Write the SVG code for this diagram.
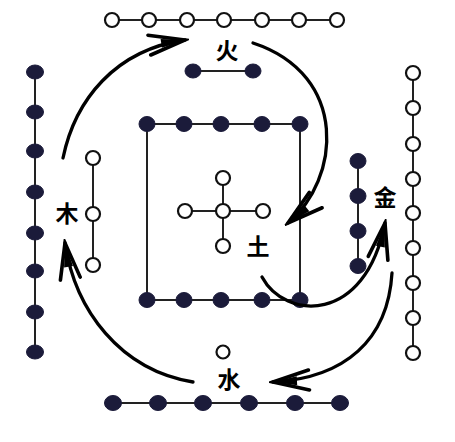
<svg xmlns="http://www.w3.org/2000/svg" width="455" height="442" viewBox="0 0 455 442">
<style>
.ln{stroke:#222;stroke-width:2;fill:none}
.blk{fill:#1b1b3a;stroke:#1b1b3a;stroke-width:1}
.wht{fill:#fff;stroke:#111;stroke-width:2.2}
.arc{stroke:#000;stroke-width:3.3;fill:none;stroke-linecap:round;marker-end:url(#ah)}
.lab{font-family:"Noto Sans CJK SC","Noto Sans CJK JP",sans-serif;font-size:23px;font-weight:700;fill:#000;text-anchor:middle;dominant-baseline:central}
</style>
<defs>
<marker id="ah" markerUnits="userSpaceOnUse" markerWidth="46" markerHeight="30" viewBox="-42 -15 46 30" refX="0" refY="0" orient="auto">
<path d="M-36,-10 L0,0 L-36,10" fill="none" stroke="#000" stroke-width="3.6" stroke-linejoin="miter" stroke-linecap="round"/>
<path d="M0,0 L-24,-4.5 L-24,4.5 Z" fill="#000"/>
</marker>
</defs>
<rect width="455" height="442" fill="#fff"/>

<g id="fire">
<g id="fire-outer">
<line class="ln" x1="112" y1="20" x2="337" y2="20"/>
<circle class="wht" cx="112" cy="20" r="7"/>
<circle class="wht" cx="149" cy="20" r="7"/>
<circle class="wht" cx="187" cy="20" r="7"/>
<circle class="wht" cx="224" cy="20" r="7"/>
<circle class="wht" cx="262" cy="20" r="7"/>
<circle class="wht" cx="299" cy="20" r="7"/>
<circle class="wht" cx="337" cy="20" r="7"/>
</g>
<g id="fire-inner">
<line class="ln" x1="193" y1="71" x2="253" y2="71"/>
<ellipse class="blk" cx="193" cy="71" rx="8" ry="7"/>
<ellipse class="blk" cx="253" cy="71" rx="8" ry="7"/>
</g>
<text class="lab" x="227" y="49" font-size="21">火</text>
</g>

<g id="earth">
<g id="earth-square">
<line class="ln" x1="147" y1="124" x2="300" y2="124"/>
<line class="ln" x1="147" y1="300" x2="300" y2="300"/>
<line class="ln" x1="147" y1="124" x2="147" y2="300"/>
<line class="ln" x1="300" y1="124" x2="300" y2="300"/>
<ellipse class="blk" cx="147" cy="124" rx="8" ry="7.5"/>
<ellipse class="blk" cx="184" cy="124" rx="8" ry="7.5"/>
<ellipse class="blk" cx="221" cy="124" rx="8" ry="7.5"/>
<ellipse class="blk" cx="262" cy="124" rx="8" ry="7.5"/>
<ellipse class="blk" cx="300" cy="124" rx="8" ry="7.5"/>
<ellipse class="blk" cx="147" cy="300" rx="8" ry="7.5"/>
<ellipse class="blk" cx="184" cy="300" rx="8" ry="7.5"/>
<ellipse class="blk" cx="221" cy="300" rx="8" ry="7.5"/>
<ellipse class="blk" cx="262" cy="300" rx="8" ry="7.5"/>
<ellipse class="blk" cx="300" cy="300" rx="8" ry="7.5"/>
</g>
<g id="earth-cross">
<line class="ln" x1="223" y1="178" x2="223" y2="246"/>
<line class="ln" x1="185" y1="211" x2="263" y2="211"/>
<circle class="wht" cx="223" cy="178" r="7"/>
<circle class="wht" cx="223" cy="211" r="7"/>
<circle class="wht" cx="223" cy="246" r="7"/>
<circle class="wht" cx="185" cy="211" r="7"/>
<circle class="wht" cx="263" cy="211" r="7"/>
</g>
<text class="lab" x="258" y="245" font-weight="400">土</text>
</g>

<g id="wood">
<g id="wood-outer">
<line class="ln" x1="35" y1="72" x2="35" y2="352"/>
<ellipse class="blk" cx="35" cy="72" rx="8.5" ry="7"/>
<ellipse class="blk" cx="35" cy="112" rx="8.5" ry="7"/>
<ellipse class="blk" cx="35" cy="151" rx="8.5" ry="7"/>
<ellipse class="blk" cx="35" cy="192" rx="8.5" ry="7"/>
<ellipse class="blk" cx="35" cy="233" rx="8.5" ry="7"/>
<ellipse class="blk" cx="35" cy="271" rx="8.5" ry="7"/>
<ellipse class="blk" cx="35" cy="312" rx="8.5" ry="7"/>
<ellipse class="blk" cx="35" cy="352" rx="8.5" ry="7"/>
</g>
<g id="wood-inner">
<line class="ln" x1="93" y1="158" x2="93" y2="265"/>
<circle class="wht" cx="93" cy="158" r="7"/>
<circle class="wht" cx="93" cy="214" r="7"/>
<circle class="wht" cx="93" cy="265" r="7"/>
</g>
<text class="lab" x="67" y="212">木</text>
</g>

<g id="metal">
<g id="metal-outer">
<line class="ln" x1="413" y1="73" x2="413" y2="353"/>
<circle class="wht" cx="413" cy="73" r="7"/>
<circle class="wht" cx="413" cy="108" r="7"/>
<circle class="wht" cx="413" cy="144" r="7"/>
<circle class="wht" cx="413" cy="179" r="7"/>
<circle class="wht" cx="413" cy="213" r="7"/>
<circle class="wht" cx="413" cy="248" r="7"/>
<circle class="wht" cx="413" cy="283" r="7"/>
<circle class="wht" cx="413" cy="318" r="7"/>
<circle class="wht" cx="413" cy="353" r="7"/>
</g>
<g id="metal-inner">
<line class="ln" x1="358" y1="161" x2="358" y2="266"/>
<ellipse class="blk" cx="358" cy="161" rx="8" ry="7.5"/>
<ellipse class="blk" cx="358" cy="196" rx="8" ry="7.5"/>
<ellipse class="blk" cx="358" cy="231" rx="8" ry="7.5"/>
<ellipse class="blk" cx="358" cy="266" rx="8" ry="7.5"/>
</g>
<text class="lab" x="385" y="196">金</text>
</g>

<g id="water">
<g id="water-outer">
<line class="ln" x1="113" y1="403" x2="340" y2="403"/>
<ellipse class="blk" cx="113" cy="403" rx="8.5" ry="7.5"/>
<ellipse class="blk" cx="158" cy="403" rx="8.5" ry="7.5"/>
<ellipse class="blk" cx="203" cy="403" rx="8.5" ry="7.5"/>
<ellipse class="blk" cx="249" cy="403" rx="8.5" ry="7.5"/>
<ellipse class="blk" cx="295" cy="403" rx="8.5" ry="7.5"/>
<ellipse class="blk" cx="340" cy="403" rx="8.5" ry="7.5"/>
</g>
<circle id="water-inner" class="wht" cx="223" cy="352" r="6.5"/>
<text class="lab" x="229" y="378">水</text>
</g>

<g id="connectors">
<path class="arc" d="M63,158 C75,100 115,50 185,40"/>
<path class="arc" d="M253,43 C350,75 340,180 288,223"/>
<path class="arc" d="M262,277 C285,320 365,325 385,223"/>
<path class="arc" d="M392,273 C388,340 345,378 273,382"/>
<path class="arc" d="M193,382 C120,370 75,310 65,243"/>
</g>
</svg>
